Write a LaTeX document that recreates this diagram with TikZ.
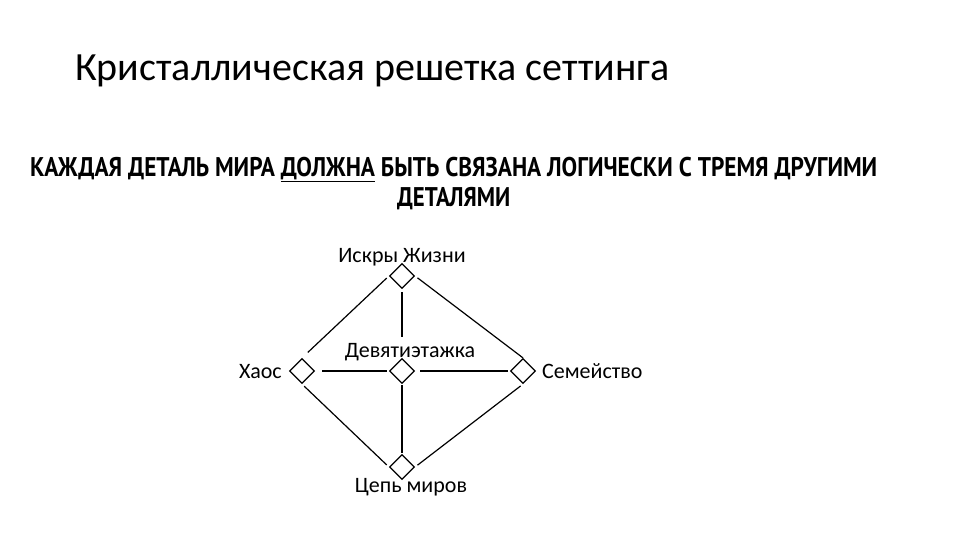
\documentclass[tikz,border=0pt]{standalone}
\usepackage{fontspec}
\usepackage{graphicx}
\setmainfont{Carlito}
\newfontfamily\subfont{PT Sans}
\usetikzlibrary{shapes.geometric}
\begin{document}
\begin{tikzpicture}[x=1pt,y=-1pt,
  dia/.style={draw=black,line width=1.2pt,diamond,aspect=1,inner sep=0pt,minimum width=25pt,minimum height=25pt},
  lbl/.style={inner sep=0pt,font=\fontsize{22}{26}\selectfont},
  link/.style={draw=black,line width=1.2pt,shorten <=3pt,shorten >=3pt}]
\useasboundingbox (0,0) rectangle (960,540);
\fill[white] (0,0) rectangle (960,540);
% title
\node[anchor=base west,inner sep=0pt,font=\fontsize{40}{48}\selectfont] (title) at (75,81) {Кристаллическая решетка сеттинга};
% subtitle
\node[anchor=base west,inner sep=0pt] (sub1) at (30,176) {\resizebox{847pt}{\height}{\subfont\bfseries\fontsize{27}{30}\selectfont КАЖДАЯ ДЕТАЛЬ МИРА \underline{ДОЛЖНА} БЫТЬ СВЯЗАНА ЛОГИЧЕСКИ С ТРЕМЯ ДРУГИМИ}};
\node[anchor=base west,inner sep=0pt] (sub2) at (397,206) {\resizebox{113pt}{\height}{\subfont\bfseries\fontsize{27}{30}\selectfont ДЕТАЛЯМИ}};
% diamonds
\node[dia] (top) at (402,276) {};
\node[dia] (mid) at (402,371) {};
\node[dia] (lft) at (302,371) {};
\node[dia] (rgt) at (523,371) {};
\node[dia] (bot) at (402,467) {};
% labels
\node[lbl,anchor=base] (ltop) at (402,262) {Искры Жизни};
\node[lbl,anchor=base] (lmid) at (410,357) {Девятиэтажка};
\node[lbl,anchor=base east] (llft) at (282,378) {Хаос};
\node[lbl,anchor=base west] (lrgt) at (542,378) {Семейство};
\node[lbl,anchor=base] (lbot) at (411,492) {Цепь миров};
% connectors
\draw[link,shorten >=8pt] (top.west) -- (lft.north);
\draw[link,shorten >=0pt] (top.east) -- (rgt.north);
\draw[link] (lft.south) -- (bot.west);
\draw[link] (rgt.south) -- (bot.east);
\draw[link,shorten >=4pt] (top.south) -- (402,341);
\draw[link,shorten <=1pt,shorten >=1pt] (mid.south) -- (bot.north);
\draw[link,shorten <=7pt,shorten >=2pt] (lft.east) -- (mid.west);
\draw[link,shorten <=5pt,shorten >=2pt] (mid.east) -- (rgt.west);
\end{tikzpicture}
\end{document}
